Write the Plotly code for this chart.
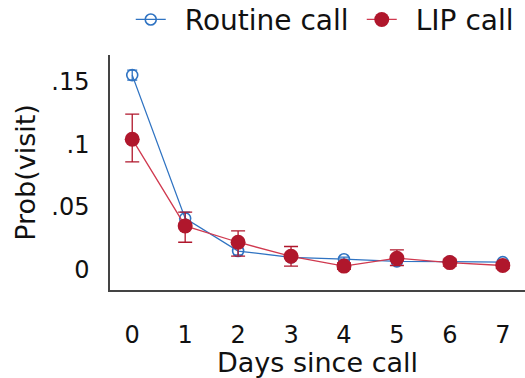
import plotly.graph_objects as go

days = [0, 1, 2, 3, 4, 5, 6, 7]

routine_p = [0.155, 0.041, 0.015, 0.010, 0.0085, 0.0068, 0.0066, 0.0062]
routine_lo = [0.151, 0.036, 0.012, 0.008, 0.0068, 0.0052, 0.0052, 0.0048]
routine_hi = [0.159, 0.046, 0.018, 0.012, 0.0102, 0.0084, 0.0080, 0.0076]

lip_p = [0.104, 0.035, 0.022, 0.0108, 0.003, 0.0093, 0.0058, 0.0035]
lip_lo = [0.086, 0.022, 0.011, 0.003, 0.0005, 0.0035, 0.0030, 0.0010]
lip_hi = [0.124, 0.046, 0.031, 0.0186, 0.0055, 0.0160, 0.0085, 0.0060]

ytick_vals = [0, 0.05, 0.1, 0.15]
ytick_text = ["0", ".05", ".1", ".15"]

BLUE = "#2f73c2"
RED = "#b0172c"
RED_LINE = "#d0394f"
FONT = "DejaVu Sans, Verdana, sans-serif"


def err(p, lo, hi):
    return dict(
        type="data", symmetric=False,
        array=[h - v for h, v in zip(hi, p)],
        arrayminus=[v - l for v, l in zip(p, lo)],
    )


fig = go.Figure()
fig.add_trace(go.Scatter(
    x=days, y=routine_p, name="\u2002Routine call", mode="lines+markers",
    legendwidth=186,
    line=dict(color=BLUE, width=1.3),
    marker=dict(symbol="circle-open", size=11, color=BLUE, line=dict(width=1.6)),
    error_y=dict(**err(routine_p, routine_lo, routine_hi), color=BLUE, thickness=1.3, width=5),
))
fig.add_trace(go.Scatter(
    x=days, y=lip_p, name="\u2002LIP call", mode="lines+markers",
    line=dict(color=RED_LINE, width=1.3),
    marker=dict(symbol="circle", size=15, color=RED),
    error_y=dict(**err(lip_p, lip_lo, lip_hi), color=RED, thickness=1.3, width=7),
))

fig.update_layout(
    width=525, height=378,
    margin=dict(l=110, r=0, t=55, b=88, autoexpand=False),
    paper_bgcolor="white", plot_bgcolor="white",
    font=dict(family=FONT, size=24, color="#111"),
    showlegend=True,
    legend=dict(
        orientation="h", x=0.05, xanchor="left", y=1.15, yanchor="middle",
        font=dict(size=28), itemwidth=30, tracegroupgap=0,
        bgcolor="rgba(0,0,0,0)",
    ),
    xaxis=dict(
        range=[-0.42, 7.42], tickvals=days, showgrid=False, zeroline=False,
        showline=True, linecolor="#444", linewidth=1.5, ticks="",
        ticklabelstandoff=22, tickfont=dict(size=24),
        title=dict(text="Days since call", standoff=4, font=dict(size=27)),
    ),
    yaxis=dict(
        range=[-0.016, 0.171], tickvals=ytick_vals, ticktext=ytick_text,
        showgrid=False, zeroline=False, showline=True, linecolor="#444",
        linewidth=1.5, ticks="", ticklabelstandoff=14, tickfont=dict(size=24),
        title=dict(text="Prob(visit)", standoff=8, font=dict(size=27)),
    ),
)

fig.write_html("out.html")
